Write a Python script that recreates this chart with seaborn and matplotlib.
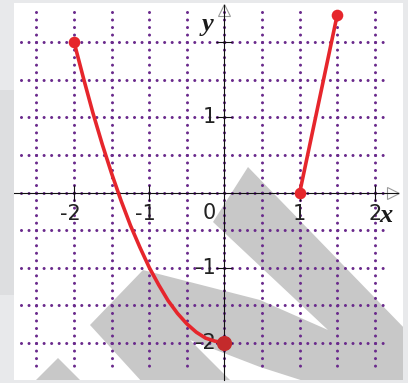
import matplotlib
matplotlib.use("Agg")
import matplotlib.pyplot as plt
from matplotlib.patches import Polygon, Rectangle
from matplotlib.transforms import IdentityTransform
import seaborn as sns

# ---- data -------------------------------------------------------------
# left branch of the piecewise function
left_x = [-2.0, -1.875, -1.75, -1.625, -1.5, -1.375, -1.25, -1.125, -1.0,
          -0.875, -0.75, -0.625, -0.5, -0.375, -0.25, -0.125, 0.0]
left_y = [2.0, 1.52, 1.06, 0.64, 0.25, -0.11, -0.44, -0.73, -1.0,
          -1.23, -1.44, -1.61, -1.75, -1.86, -1.94, -1.98, -2.0]
# right branch (straight segment)
right_x = [1.0, 1.5]
right_y = [0.0, 2.37]
# end points drawn as dots
end_x = [-2.0, 1.0, 1.5]
end_y = [2.0, 0.0, 2.37]
vertex_x = [0.0]
vertex_y = [-2.0]

x_ticks = [-2, -1, 1, 2]
x_tick_labels = ["-2", "-1", "1", "2"]
y_ticks = [-2, -1, 1, 2]
y_tick_labels = ["-2", "-1", "1", ""]
grid_x = [-2.5, -2.0, -1.5, -1.0, -0.5, 0.0, 0.5, 1.0, 1.5, 2.0]
grid_y = [-2.0, -1.5, -1.0, -0.5, 0.0, 0.5, 1.0, 1.5, 2.0]

# ---- figure -----------------------------------------------------------
W, H, DPI = 408, 383, 100
plt.rcParams["lines.scale_dashes"] = False
fig = plt.figure(figsize=(W / DPI, H / DPI), dpi=DPI, facecolor="#e8e9eb")

# pixel frame of the white panel and of the coordinate system
X0, SX = 224.5, 75.2       # pixel column of x=0, pixels per unit
Y0, SY = 192.5, 75.1       # pixel row of y=0, pixels per unit
P_L, P_R, P_T, P_B = 14, 403, 3, 380

# soft shadow along the left edge of the frame
fig.patches.append(Rectangle((0, 1 - 295 / H), P_L / W, 205 / H,
                             transform=fig.transFigure, fc="#dddee0",
                             ec="none", zorder=0))

ax = fig.add_axes([P_L / W, 1 - P_B / H, (P_R - P_L) / W, (P_B - P_T) / H])
ax.set_facecolor("white")
ax.set_xlim((P_L - X0) / SX, (P_R - X0) / SX)
ax.set_ylim((Y0 - P_B) / SY, (Y0 - P_T) / SY)

# background watermark (display pixels, y measured from the top)
def to_disp(pts):
    return [(px, H - py) for px, py in pts]

shade = "#c8c8c8"
for verts in (
    [(90, 325), (143, 270), (260, 300), (328, 330), (213, 222), (248, 167),
     (408, 332), (408, 383), (310, 383), (260, 367), (190, 340), (233, 383),
     (143, 383)],
    [(33, 383), (58, 358), (83, 383)],
):
    poly = Polygon(to_disp(verts), closed=True, fc=shade, ec="none", zorder=0.5)
    ax.add_patch(poly)
    poly.set_transform(IdentityTransform())

# dotted purple grid, one dot every 0.1 unit
purple = "#6a2a8c"
gap_x = 0.1 * SX * 72 / DPI
gap_y = 0.1 * SY * 72 / DPI
for gx in grid_x:
    ax.plot([gx, gx], [2.4, -2.4], color=purple, lw=2.2,
            dashes=(0.01, gap_y), dash_capstyle="round", zorder=1)
for gy in grid_y:
    ax.plot([-2.7, 2.2], [gy, gy], color=purple, lw=2.2,
            dashes=(0.01, gap_x), dash_capstyle="round", zorder=1)

# axes through the origin
for side in ("top", "right"):
    ax.spines[side].set_visible(False)
ax.spines["left"].set_position(("data", 0))
ax.spines["bottom"].set_position(("data", 0))
for side in ("left", "bottom"):
    ax.spines[side].set_linewidth(0.8)
    ax.spines[side].set_color("#111111")
    ax.spines[side].set_zorder(2)
ax.spines["bottom"].set_bounds((P_L - X0) / SX, (398 - X0) / SX)
ax.spines["left"].set_bounds((Y0 - P_B) / SY, (Y0 - 5) / SY)
ax.set_xticks(x_ticks)
ax.set_yticks(y_ticks)
ax.tick_params(direction="inout", length=11, width=0.8, color="#111111",
               labelbottom=False, labelleft=False)
ax.plot((392.5 - X0) / SX, 0, marker=">", ms=8, mfc="none", mec="#9a9a9a",
        mew=0.8, zorder=2)
ax.plot(0, (Y0 - 10) / SY, marker="^", ms=8, mfc="none", mec="#9a9a9a",
        mew=0.8, zorder=2)

# tick labels
lab_font = dict(family="DejaVu Sans", fontsize=15, color="#222222")
for t, lab in zip(x_ticks, x_tick_labels):
    dx = -3 if lab.startswith("-") else 0
    ax.annotate(lab, (t, 0), xytext=(dx, -15.5), textcoords="offset points",
                ha="center", va="center", **lab_font)
ax.annotate("0", (0, 0), xytext=(-10.8, -14.5), textcoords="offset points",
            ha="center", va="center", **lab_font)
for t, lab in zip(y_ticks, y_tick_labels):
    if lab:
        ax.annotate(lab, (0, t), xytext=(-6, 0), textcoords="offset points",
                    ha="right", va="center", **lab_font)

var_font = dict(family="Liberation Serif", style="italic", weight="bold",
                fontsize=19, color="#1a1a1a")
ax.text((208 - X0) / SX, (Y0 - 25) / SY, "y", ha="center", va="center",
        **var_font)
ax.text((386 - X0) / SX, (Y0 - 216) / SY, "x", ha="center", va="center",
        **var_font)

# the function
red = "#e6262c"
sns.lineplot(x=left_x, y=left_y, ax=ax, color=red, lw=2.6, sort=False,
             estimator=None, zorder=3)
sns.lineplot(x=right_x, y=right_y, ax=ax, color=red, lw=2.6, sort=False,
             estimator=None, zorder=3)
sns.scatterplot(x=end_x, y=end_y, ax=ax, color=red, s=70, linewidth=0,
                zorder=4)
sns.scatterplot(x=vertex_x, y=vertex_y, ax=ax, color="#c42a2b", s=120,
                linewidth=0, zorder=4)
ax.set_xlabel("")
ax.set_ylabel("")

fig.savefig("out.png", dpi=DPI, facecolor=fig.get_facecolor())
